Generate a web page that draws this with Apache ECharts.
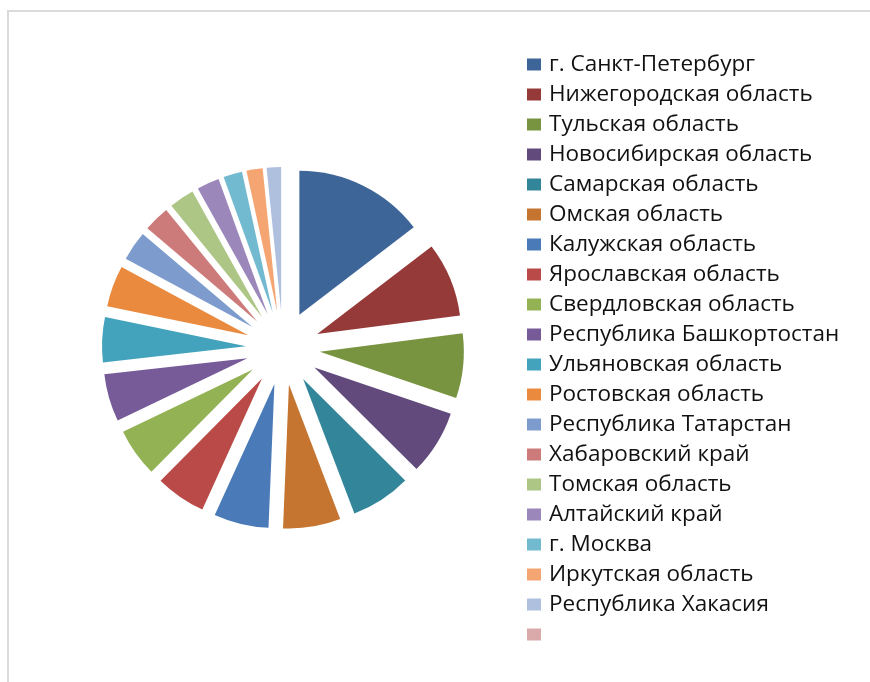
<!DOCTYPE html>
<html>
<head>
<meta charset="utf-8">
<script src="https://cdn.jsdelivr.net/npm/echarts@6/dist/echarts.min.js"></script>
<style>
html,body{margin:0;padding:0;background:#fff;}
#chart{width:870px;height:682px;}
</style>
</head>
<body>
<div id="chart"></div>
<script>
const regions = [
  'г. Санкт-Петербург',
  'Нижегородская область',
  'Тульская область',
  'Новосибирская область',
  'Самарская область',
  'Омская область',
  'Калужская область',
  'Ярославская область',
  'Свердловская область',
  'Республика Башкортостан',
  'Ульяновская область',
  'Ростовская область',
  'Республика Татарстан',
  'Хабаровский край',
  'Томская область',
  'Алтайский край',
  'г. Москва',
  'Иркутская область',
  'Республика Хакасия',
  '\u00a0'
];
const shares = [14.5, 8.3, 7.2, 7.2, 6.7, 6.4, 6.1, 5.6, 5.4, 5.3, 5.0, 4.6, 3.3, 2.9, 2.8, 2.5, 2.1, 1.8, 1.6, 0];
const colors = [
  '#3d6597', '#953a39', '#789440', '#624a7d', '#33859a',
  '#c5752f', '#4a7ab8', '#b94a48', '#93b254', '#765b98',
  '#43a3bd', '#e98a3e', '#7d9ccd', '#cd7b7a', '#adc685',
  '#9b87ba', '#72bad0', '#f5a572', '#afc0de', '#d9aaa9'
];

const chart = echarts.init(document.getElementById('chart'));
const data = regions.map((n, i) => ({
  name: n,
  value: shares[i],
  selected: true,
  itemStyle: { color: colors[i] }
}));
chart.setOption({
  animation: false,
  backgroundColor: '#fff',
  graphic: [{
    type: 'rect',
    shape: { x: 8, y: 11, width: 900, height: 700 },
    style: { fill: 'none', stroke: '#dadada', lineWidth: 2 },
    silent: true
  }],
  legend: {
    orient: 'vertical',
    left: 522,
    top: 48,
    height: 630,
    icon: 'rect',
    itemWidth: 14,
    itemHeight: 12,
    itemGap: 7,
    selectedMode: false,
    data: regions,
    textStyle: {
      fontFamily: 'Open Sans',
      fontSize: 22.5,
      color: '#111',
      lineHeight: 23,
      padding: [0, 0, 0, 3]
    }
  },
  series: [{
    type: 'pie',
    center: [283, 348],
    radius: 144,
    startAngle: 90,
    clockwise: true,
    selectedMode: 'multiple',
    selectedOffset: 37,
    label: { show: false },
    labelLine: { show: false },
    emphasis: { disabled: true },
    itemStyle: { borderWidth: 0 },
    data: data
  }]
});
</script>
</body>
</html>
